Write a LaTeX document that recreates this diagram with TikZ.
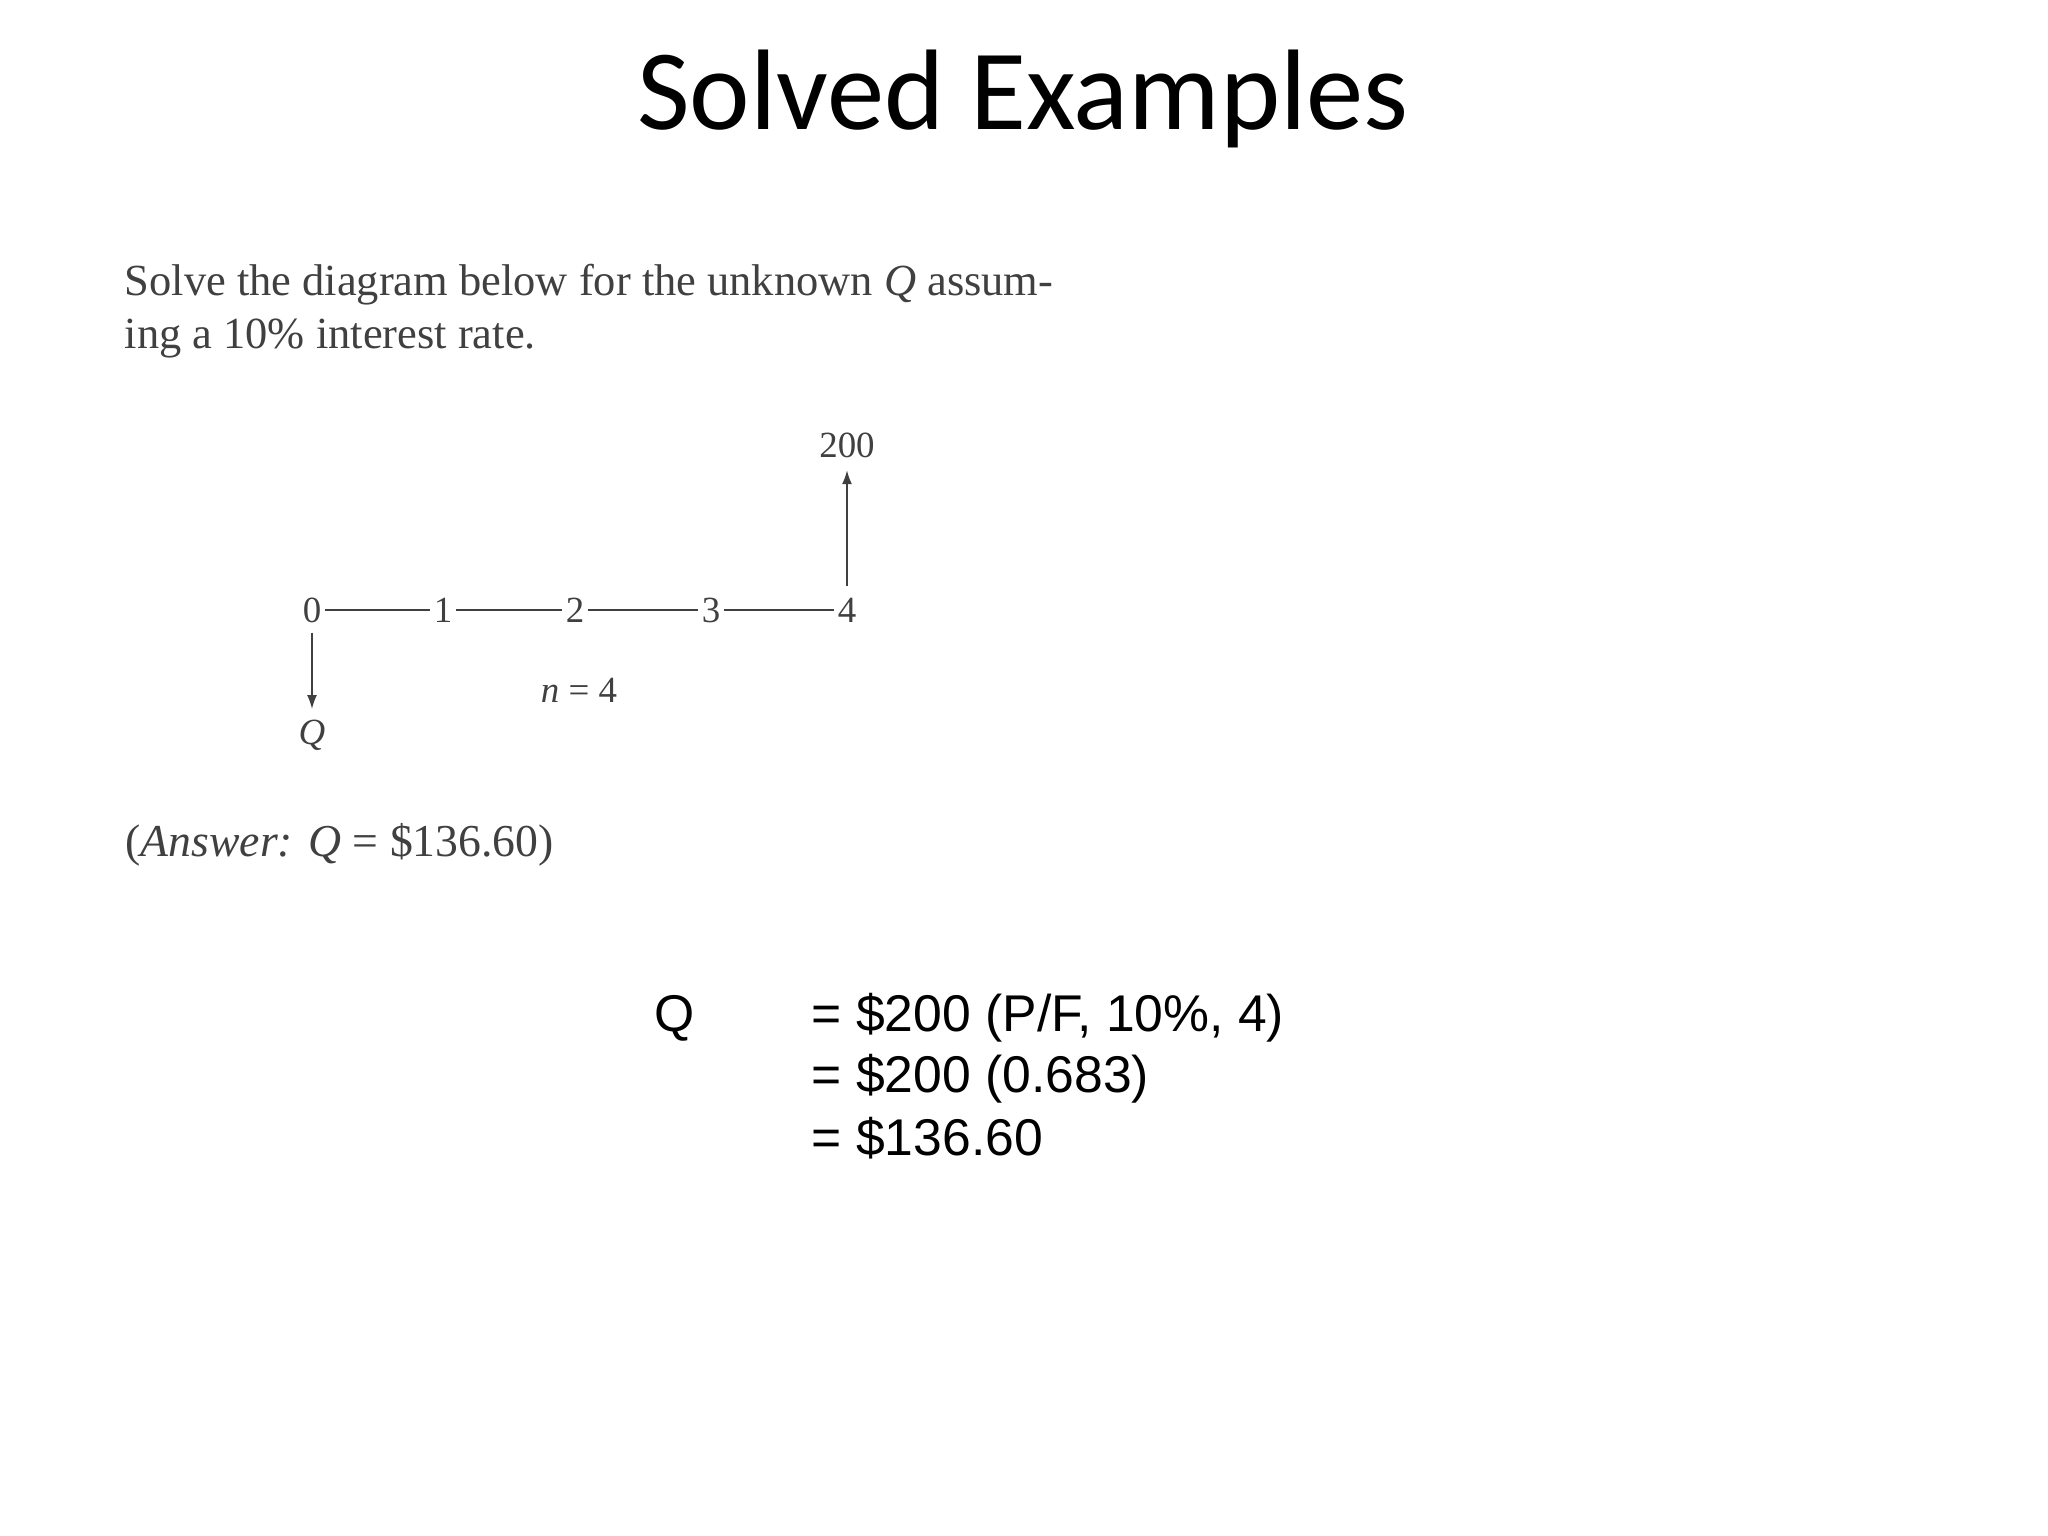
\documentclass[tikz,border=0pt]{standalone}
\usepackage{fontspec}
\setmainfont{Liberation Serif}
\newfontfamily\titlefont{Carlito}
\newfontfamily\eqfont{Liberation Sans}
\usetikzlibrary{arrows, arrows.meta, calc, positioning}
\newcommand{\period}[3]{
    \node[inner sep=1pt, font=\fontsize{10.5}{12}\selectfont, text=black!75] (#1) at (#2) {#3};
}
\newcommand{\eqline}[3]{
    \node[anchor=west, inner sep=0cm, font=\eqfont\fontsize{14.7}{18}\selectfont] (#1) at (#2) {#3};
}

\begin{document}
\begin{tikzpicture}
                    \fill[white] (0, 0) rectangle (20.48, -15.36);
                    \useasboundingbox (0, 0) rectangle (20.48, -15.36);
                    \node[font=\titlefont\fontsize{32.6}{40}\selectfont] (title) at (10.23, -0.99) {Solved Examples};
                    \node[anchor=west, align=left, inner sep=0cm, text=black!75, font=\fontsize{12.65}{15.2}\selectfont] (problem) at (1.24, -3.11) {Solve the diagram below for the unknown \textit{Q} assum-\\ing a 10\% interest rate.};
                    \period{p0}{3.12, -6.10}{0}
                    \period{p1}{4.43, -6.10}{1}
                    \period{p2}{5.75, -6.10}{2}
                    \period{p3}{7.11, -6.10}{3}
                    \period{p4}{8.47, -6.10}{4}
                    \node[inner sep=0.12cm, font=\fontsize{10.5}{12}\selectfont, text=black!75] (amount) at (8.47, -4.45) {200};
                    \node[inner sep=0.1cm, font=\fontsize{10.5}{12}\selectfont, text=black!75] (q) at (3.12, -7.35) {\textit{Q}};
                    \node[font=\fontsize{10.5}{12}\selectfont, text=black!75] (n) at (5.79, -6.90) {\textit{n} = 4};
                    \node[anchor=west, inner sep=0cm, text=black!75, font=\fontsize{13}{15}\selectfont] (answer) at (1.25, -8.45) {(\textit{Answer:} \textit{Q} = \$136.60)};
                    \node[font=\eqfont\fontsize{14.7}{18}\selectfont] (lhs) at (6.75, -10.18) {Q};
                    \eqline{eq1}{8.11, -10.18}{= \$200 (P/F, 10\%, 4)}
                    \eqline{eq2}{8.11, -10.79}{= \$200 (0.683)}
                    \eqline{eq3}{8.11, -11.38}{= \$136.60}
                    \draw[black!75, line width=0.55pt]
                    (p0) -- (p1) -- (p2) -- (p3) -- (p4);
                    \draw[black!75, line width=0.55pt, -{Latex[length=0.14cm, width=0.1cm]}, shorten <=0.08cm]
                    (p4) -- (amount);
                    \draw[black!75, line width=0.55pt, -{Latex[length=0.14cm, width=0.1cm]}, shorten <=0.06cm]
                    (p0) -- (q);
                \end{tikzpicture}
\end{document}
